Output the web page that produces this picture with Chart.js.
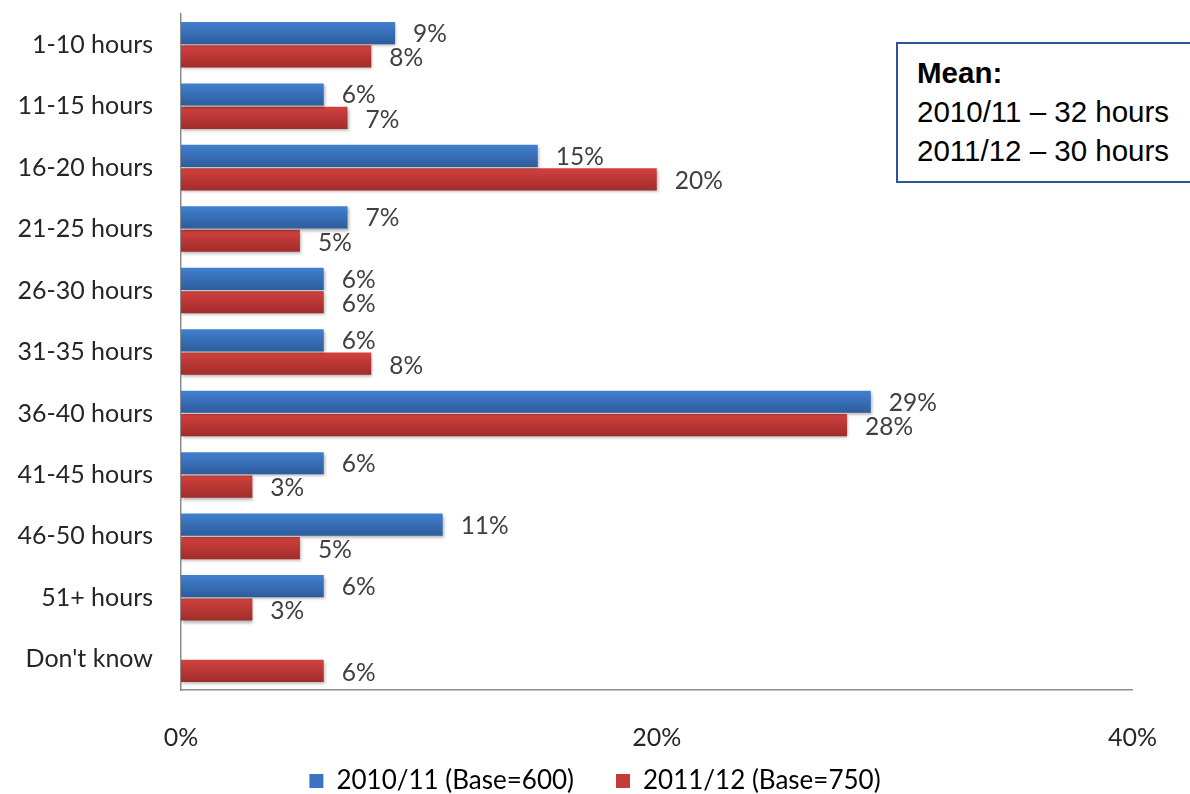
<!DOCTYPE html>
<html>
<head>
<meta charset="utf-8">
<script src="https://cdn.jsdelivr.net/npm/chart.js@4.4.1/dist/chart.umd.min.js"></script>
<style>
  html, body { margin: 0; padding: 0; background: #fff; }
  #wrap { position: relative; width: 1190px; height: 794px; overflow: hidden; }
  #note {
    position: absolute; left: 896px; top: 42px; width: 320px; height: 141px;
    border: 2px solid #2F5597; box-sizing: border-box; background: #fff;
    font-family: "Liberation Sans", Arial, sans-serif; font-size: 29.5px; color: #000;
    padding: 9px 0 0 19px; line-height: 39px;
  }
  #note b { font-weight: bold; }
</style>
</head>
<body>
<div id="wrap">
  <canvas id="c" width="1190" height="794"></canvas>
  <div id="note"><b>Mean:</b><br>2010/11 – 32 hours<br>2011/12 – 30 hours</div>
</div>
<script>
const categories = ["1-10 hours", "11-15 hours", "16-20 hours", "21-25 hours", "26-30 hours",
  "31-35 hours", "36-40 hours", "41-45 hours", "46-50 hours", "51+ hours", "Don't know"];
const series2010 = [9, 6, 15, 7, 6, 6, 29, 6, 11, 6, null];
const series2011 = [8, 7, 20, 5, 6, 8, 28, 3, 5, 3, 6];
const xTicks = [0, 20, 40];
const seriesNames = ["2010/11 (Base=600)", "2011/12 (Base=750)"];

const FONT = "Lato, 'Open Sans', sans-serif";
const CAT_PCT = 0.76;
const BAR_PCT = 0.95;

// Vertical shading for each bar: lighter along the top edge, darker at the bottom
function barShade(top, bottom) {
  return function (context) {
    const chart = context.chart;
    const yScale = chart.scales && chart.scales.y;
    if (!yScale || !chart.chartArea || context.dataIndex === undefined) return top;
    const n = chart.data.labels.length;
    const band = (yScale.bottom - yScale.top) / n;
    const catSize = band * CAT_PCT;
    const stack = catSize / 2;
    const h = stack * BAR_PCT;
    const center = yScale.getPixelForValue(context.dataIndex) - catSize / 2 + stack * (context.datasetIndex + 0.5);
    const g = chart.ctx.createLinearGradient(0, center - h / 2, 0, center + h / 2);
    g.addColorStop(0, top);
    g.addColorStop(1, bottom);
    return g;
  };
}

// Value labels to the right of each bar
const valueLabels = {
  id: 'valueLabels',
  afterDatasetsDraw(chart) {
    const ctx = chart.ctx;
    ctx.save();
    ctx.font = "24.5px " + FONT;
    ctx.fillStyle = "#404040";
    ctx.textAlign = "left";
    ctx.textBaseline = "middle";
    chart.data.datasets.forEach((ds, di) => {
      const meta = chart.getDatasetMeta(di);
      meta.data.forEach((bar, i) => {
        const v = ds.data[i];
        if (v === null || v === undefined) return;
        ctx.fillText(v + "%", bar.x + 18, bar.y + 1 + di);
      });
    });
    ctx.restore();
  }
};

// Soft drop shadow under the bars
const barShadow = {
  id: 'barShadow',
  beforeDatasetsDraw(chart) {
    const ctx = chart.ctx;
    ctx.save();
    ctx.shadowColor = "rgba(0,0,0,0.3)";
    ctx.shadowBlur = 3;
    ctx.shadowOffsetX = 1;
    ctx.shadowOffsetY = 2;
  },
  afterDatasetsDraw(chart) {
    chart.ctx.restore();
  }
};

// The percentage tick labels sit low, below the axis box; let them draw there unclipped
const tickRoom = {
  id: 'tickRoom',
  afterLayout(chart) {
    chart.scales.x.bottom = chart.height;
  }
};

new Chart(document.getElementById('c'), {
  type: 'bar',
  data: {
    labels: categories,
    datasets: [
      { label: seriesNames[0], data: series2010, backgroundColor: barShade("#4180CF", "#2D5C9C"), borderWidth: 0 },
      { label: seriesNames[1], data: series2011, backgroundColor: barShade("#D2423F", "#A02C2A"), borderWidth: 0 }
    ]
  },
  options: {
    indexAxis: 'y',
    responsive: false,
    animation: false,
    categoryPercentage: CAT_PCT,
    barPercentage: BAR_PCT,
    layout: { padding: { top: 14, right: 0, left: 0, bottom: -10 } },
    plugins: {
      legend: {
        position: 'bottom',
        labels: {
          font: { family: FONT, size: 26 },
          color: "#262626",
          boxWidth: 14, boxHeight: 14,
          padding: 42,
          generateLabels(chart) {
            const fills = ["#3A73C2", "#C43C3A"];
            return chart.data.datasets.map((ds, i) => ({
              text: ds.label, fillStyle: fills[i], strokeStyle: fills[i], lineWidth: 0,
              datasetIndex: i, hidden: false
            }));
          }
        }
      },
      tooltip: { enabled: false }
    },
    scales: {
      x: {
        min: 0, max: 40,
        afterBuildTicks(scale) { scale.ticks = xTicks.map(v => ({ value: v })); },
        afterFit(scale) { scale.height = 36; },
        grid: { display: false, drawTicks: false },
        border: { display: true, color: "#8c8c8c", width: 1.5 },
        ticks: {
          padding: 33,
          color: "#262626",
          font: { family: FONT, size: 25 },
          callback: v => v + "%"
        }
      },
      y: {
        afterFit(scale) { scale.width = 181; scale.paddingTop = 0; scale.paddingBottom = 0; },
        grid: { display: false, drawTicks: false },
        border: { display: true, color: "#8c8c8c", width: 1.5 },
        ticks: {
          padding: 28,
          color: "#262626",
          font: { family: FONT, size: 25 }
        }
      },
      // empty right-hand margin next to the plot
      yRight: {
        type: 'linear',
        axis: 'y',
        position: 'right',
        afterFit(scale) { scale.width = 43; },
        grid: { display: false, drawTicks: false },
        border: { display: false },
        ticks: { display: false }
      }
    }
  },
  plugins: [barShadow, valueLabels, tickRoom]
});
</script>
</body>
</html>
